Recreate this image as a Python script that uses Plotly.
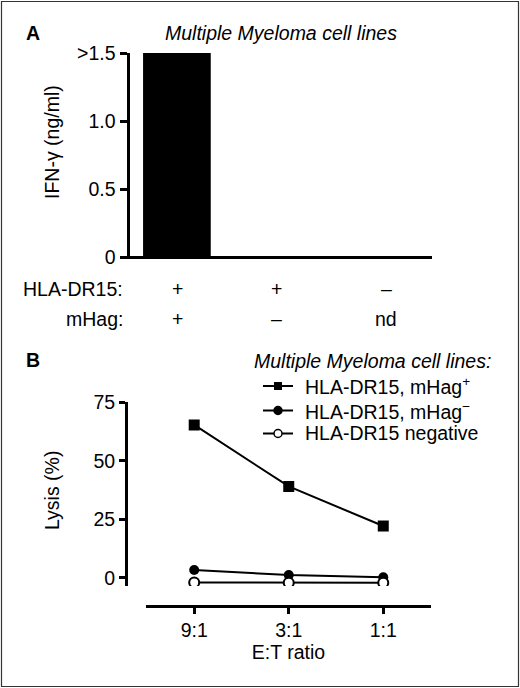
import plotly.graph_objects as go

# Panel A: IFN-gamma release
a_pos = [0, 1, 2]
a_ifn = [1.5, 0, 0]
a_hla = ["+", "+", "–"]
a_mhag = ["+", "–", "nd"]
a_ticks = [0, 0.5, 1.0, 1.5]
a_ticktext = ["0", "0.5", "1.0", ">1.5"]

# Panel B: lysis vs E:T ratio
b_pos = [0, 1, 2]
b_ratio = ["9:1", "3:1", "1:1"]
b_mhag_pos = [65.4, 39.1, 22.2]
b_mhag_neg = [3.4, 1.3, 0.3]
b_dr15_neg = [-1.9, -2.0, -2.0]
b_ticks = [0, 25, 50, 75]
b_names = ["HLA-DR15, mHag<sup>+</sup>", "HLA-DR15, mHag<sup>−</sup>", "HLA-DR15 negative"]

W, H = 520, 688
FONT = "Liberation Sans, Arial, sans-serif"
FS = 19.5


def px(x):
    return x / W


def py(y):
    return 1 - y / H


def txt(**kw):
    base = dict(xref="paper", yref="paper", showarrow=False, xanchor="center",
                yanchor="middle", font=dict(family=FONT, size=FS, color="black"))
    base.update(kw)
    return base


fig = go.Figure()

fig.add_trace(go.Bar(
    x=a_pos, y=a_ifn, width=0.69, marker=dict(color="black", line=dict(width=0)),
    xaxis="x", yaxis="y", showlegend=False,
))

markers = [
    dict(symbol="square", size=11, color="black"),
    dict(symbol="circle", size=10, color="black"),
    dict(symbol="circle", size=10, color="white", line=dict(color="black", width=2)),
]
for name, vals, mk in zip(b_names, [b_mhag_pos, b_mhag_neg, b_dr15_neg], markers):
    fig.add_trace(go.Scatter(
        x=b_pos, y=vals, name=name, mode="lines+markers",
        line=dict(color="black", width=2), marker=mk,
        xaxis="x2", yaxis="y2", showlegend=False,
    ))

axis_common = dict(
    showline=True, linecolor="black", linewidth=3, ticks="outside",
    tickcolor="black", tickwidth=2.5, showgrid=False, zeroline=False,
    tickfont=dict(family=FONT, size=FS, color="black"), fixedrange=True,
    automargin=False,
)

fig.update_layout(
    template="none",
    width=W, height=H,
    margin=dict(l=0, r=0, t=0, b=0, pad=0, autoexpand=False),
    paper_bgcolor="white", plot_bgcolor="white",
    font=dict(family=FONT, size=FS, color="black"),
    showlegend=False,
    xaxis=dict(
        axis_common, domain=[px(120), px(432)], range=[-0.58, 2.6],
        anchor="free", position=py(257), showticklabels=False, ticks="",
    ),
    yaxis=dict(
        axis_common, domain=[py(257), py(53)], range=[0, 1.5],
        anchor="free", position=px(127.5), ticklen=7,
        tickvals=a_ticks, ticktext=a_ticktext,
    ),
    xaxis2=dict(
        axis_common, domain=[px(146), px(431)], range=[-0.51, 2.505],
        anchor="free", position=py(605.5), ticklen=6,
        tickvals=b_pos, ticktext=b_ratio,
        title=dict(text="E:T ratio", font=dict(family=FONT, size=FS), standoff=5),
    ),
    yaxis2=dict(
        axis_common, domain=[py(586), py(401.7)], range=[-3.42, 75.3],
        anchor="free", position=px(126), ticklen=6, tickvals=b_ticks,
    ),
)

# panel labels, titles, row labels
fig.add_annotation(txt(text="<b>A</b>", x=px(33), y=py(33)))
fig.add_annotation(txt(text="<i>Multiple Myeloma cell lines</i>", x=px(281), y=py(33)))
fig.add_annotation(txt(text="IFN-γ (ng/ml)", x=px(52), y=py(142), textangle=-90))
fig.add_annotation(txt(text="HLA-DR15:", x=px(125), y=py(289), xanchor="right"))
fig.add_annotation(txt(text="mHag:", x=px(125), y=py(319), xanchor="right"))
fig.add_annotation(txt(text="<b>B</b>", x=px(33), y=py(360)))
fig.add_annotation(txt(text="<i>Multiple Myeloma cell lines:</i>", x=px(493), y=py(361),
                       xanchor="right"))
fig.add_annotation(txt(text="Lysis (%)", x=px(52), y=py(491), textangle=-90))

for i, (h, m) in enumerate(zip(a_hla, a_mhag)):
    shift = 13 if i == 2 else 1
    for t, yy in ((h, 289), (m, 319)):
        fig.add_annotation(txt(text=t, x=a_pos[i], xref="x", y=py(yy), xshift=shift))

# hand-built legend (tighter rows than plotly's legend allows)
row_y = [386, 410.5, 433.5]
for k, (name, yy) in enumerate(zip(b_names, row_y)):
    fig.add_shape(type="line", xref="paper", yref="paper",
                  x0=px(263), x1=px(293), y0=py(yy), y1=py(yy),
                  line=dict(color="black", width=2))
    r = 4
    if k == 0:
        fig.add_shape(type="rect", xref="paper", yref="paper",
                      x0=px(278 - r), x1=px(278 + r), y0=py(yy + r), y1=py(yy - r),
                      fillcolor="black", line=dict(width=0))
    else:
        fill = "black" if k == 1 else "white"
        fig.add_shape(type="circle", xref="paper", yref="paper",
                      x0=px(278 - r), x1=px(278 + r), y0=py(yy + r), y1=py(yy - r),
                      fillcolor=fill, line=dict(color="black", width=1.5))
    fig.add_annotation(txt(text=name, x=px(303), y=py(yy), xanchor="left"))

fig.add_shape(type="rect", xref="paper", yref="paper",
              x0=px(1.5), x1=px(518.5), y0=py(686.5), y1=py(1.5),
              line=dict(color="#333333", width=1.2))

fig.write_html(
    "out.html",
    config={"displayModeBar": False},
    post_script="document.body.style.margin='0';document.body.style.overflow='hidden';",
)
